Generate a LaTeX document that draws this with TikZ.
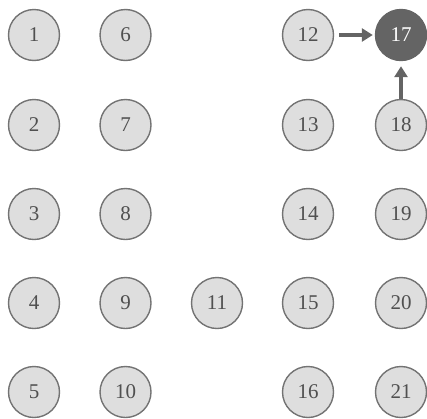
\documentclass[tikz,border=0pt]{standalone}
\usepackage{fontspec}
\setmainfont{Liberation Serif}
\usetikzlibrary{arrows.meta}
\definecolor{cfill}{RGB}{222,222,222}
\definecolor{cline}{RGB}{115,115,115}
\definecolor{cdark}{RGB}{100,100,100}
\definecolor{ctext}{RGB}{80,80,80}
\begin{document}
\begin{tikzpicture}[x=1pt,y=-1pt,
  nd/.style={circle,draw=cline,fill=cfill,line width=1.4pt,minimum size=51pt,inner sep=0pt,text=ctext,font=\fontsize{21}{21}\selectfont},
  hot/.style={nd,fill=cdark,draw=cdark,text=white},
  arr/.style={draw=cdark,line width=3.5pt,-{Triangle[length=11pt,width=13pt]}}]
\useasboundingbox (0,0) rectangle (427,418);
\def\xa{34}\def\xb{125.5}\def\xc{217}\def\xd{308}\def\xe{401}
\def\ya{35}\def\yb{125}\def\yc{214}\def\yd{303}\def\ye{392}
\node[nd] (n1) at (\xa,\ya) {1};
\node[nd] (n2) at (\xa,\yb) {2};
\node[nd] (n3) at (\xa,\yc) {3};
\node[nd] (n4) at (\xa,\yd) {4};
\node[nd] (n5) at (\xa,\ye) {5};
\node[nd] (n6) at (\xb,\ya) {6};
\node[nd] (n7) at (\xb,\yb) {7};
\node[nd] (n8) at (\xb,\yc) {8};
\node[nd] (n9) at (\xb,\yd) {9};
\node[nd] (n10) at (\xb,\ye) {10};
\node[nd] (n11) at (\xc,\yd) {11};
\node[nd] (n12) at (\xd,\ya) {12};
\node[nd] (n13) at (\xd,\yb) {13};
\node[nd] (n14) at (\xd,\yc) {14};
\node[nd] (n15) at (\xd,\yd) {15};
\node[nd] (n16) at (\xd,\ye) {16};
\node[hot] (n17) at (\xe,\ya) {17};
\node[nd] (n18) at (\xe,\yb) {18};
\node[nd] (n19) at (\xe,\yc) {19};
\node[nd] (n20) at (\xe,\yd) {20};
\node[nd] (n21) at (\xe,\ye) {21};
\draw[arr,shorten <=5pt,shorten >=2pt] (n12) -- (n17);
\draw[arr,shorten <=0pt,shorten >=5pt] (n18) -- (n17);
\end{tikzpicture}
\end{document}
